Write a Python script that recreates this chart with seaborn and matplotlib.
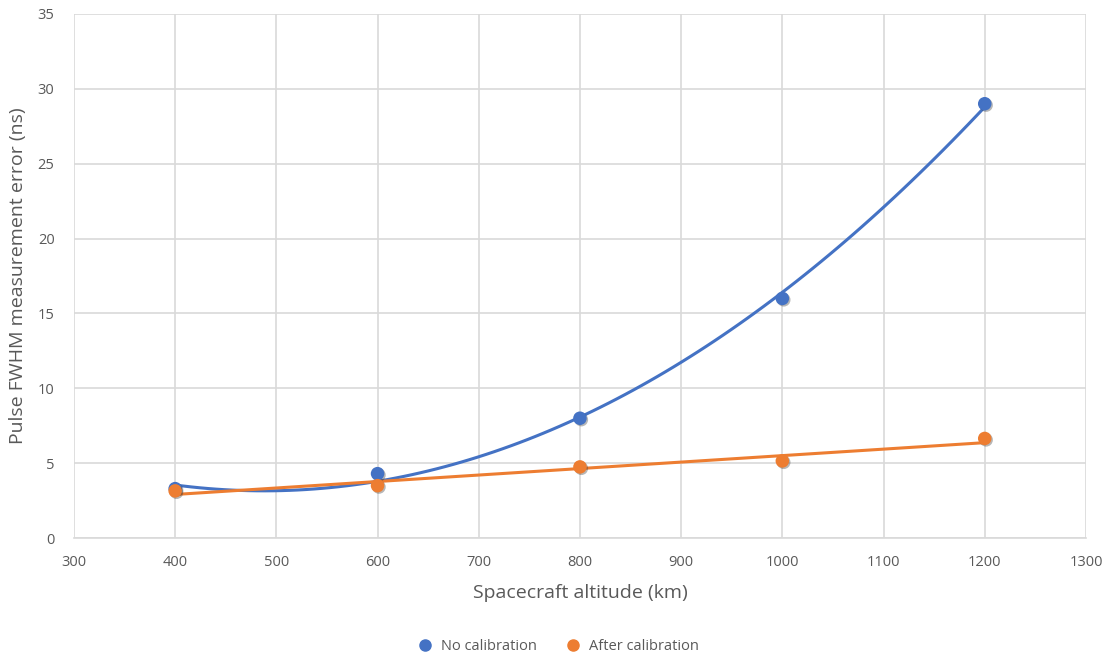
import matplotlib
matplotlib.use("Agg")
import matplotlib.pyplot as plt
import matplotlib.patheffects as pe
from matplotlib.lines import Line2D
import seaborn as sns
import numpy as np

# Spacecraft altitude (km) and pulse FWHM measurement error (ns)
altitude = [400, 600, 800, 1000, 1200]
no_calibration = [3.3, 4.3, 8.0, 16.0, 29.0]
after_calibration = [3.15, 3.5, 4.75, 5.15, 6.65]

series_names = ["No calibration", "After calibration"]
blue = "#4472C4"
orange = "#ED7D31"

sns.set_theme(style="whitegrid")
plt.rcParams["font.family"] = ["Open Sans", "DejaVu Sans"]

fig = plt.figure(figsize=(11.09, 6.61), dpi=100)
ax = fig.add_axes([0.0667, 0.186, 0.9125, 0.793])

shadow = [pe.SimplePatchShadow(offset=(1, -1), alpha=0.35, shadow_rgbFace="#333333"), pe.Normal()]

# Second-order polynomial trend for the uncalibrated series
sns.regplot(x=altitude, y=no_calibration, order=2, ci=None, ax=ax,
            scatter_kws=dict(s=95, color=blue, alpha=1, linewidths=0, zorder=4),
            line_kws=dict(color=blue, lw=2.2, zorder=3))
# Linear trend for the calibrated series
sns.regplot(x=altitude, y=after_calibration, order=1, ci=None, ax=ax,
            scatter_kws=dict(s=95, color=orange, alpha=1, linewidths=0, zorder=5),
            line_kws=dict(color=orange, lw=2.2, zorder=3))

for coll in ax.collections:
    coll.set_path_effects(shadow)

ax.set_xlim(300, 1300)
ax.set_ylim(0, 35)
ax.set_xticks(np.arange(300, 1301, 100))
ax.set_yticks(np.arange(0, 36, 5))

ax.grid(True, color="#d9d9d9", lw=1.2)
for side in ["top", "right", "left"]:
    ax.spines[side].set_visible(False)
ax.spines["bottom"].set_color("#d9d9d9")
ax.spines["bottom"].set_linewidth(1.2)
ax.tick_params(axis="both", length=0, labelsize=10.5, labelcolor="#595959")
ax.tick_params(axis="x", pad=12)
ax.tick_params(axis="y", pad=14)

ax.set_xlabel("Spacecraft altitude (km)", fontsize=14, color="#595959", labelpad=10)
ax.set_ylabel("Pulse FWHM measurement error (ns)", fontsize=14, color="#595959", labelpad=8)

handles = [Line2D([], [], marker="o", ls="", color=blue, markersize=8),
           Line2D([], [], marker="o", ls="", color=orange, markersize=8)]
fig.legend(handles, series_names, loc="center", bbox_to_anchor=(0.5, 0.022), ncol=2,
           frameon=False, fontsize=10.5, labelcolor="#595959", handletextpad=0.1,
           columnspacing=1.5)

fig.savefig("out.png", dpi=100, facecolor="white")
